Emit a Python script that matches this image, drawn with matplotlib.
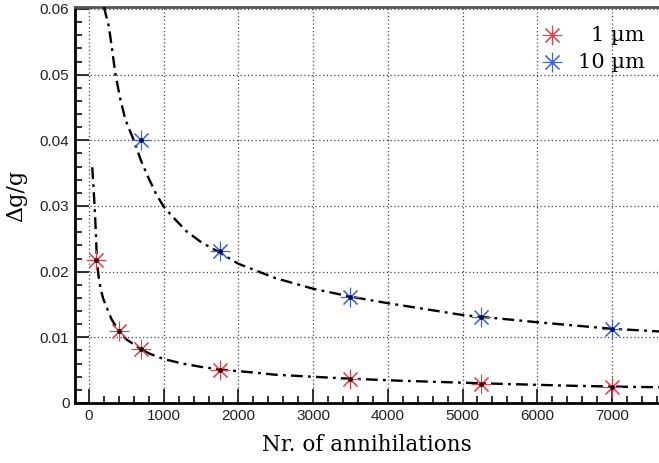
import matplotlib
matplotlib.use("Agg")
import matplotlib.pyplot as plt
from matplotlib.ticker import MultipleLocator

# measured points
n_red = [100, 400, 700, 1750, 3500, 5250, 7000]
dg_red = [0.0218, 0.0110, 0.0082, 0.0051, 0.0036, 0.0029, 0.0024]

n_blue = [700, 1750, 3500, 5250, 7000]
dg_blue = [0.0400, 0.0231, 0.0162, 0.0131, 0.0113]

# fit curves
fit_red_n = [44, 60, 76, 92, 105, 118, 130, 143, 156, 190, 236, 300, 391, 500, 590, 680,
             813, 1000, 1253, 1500, 1750, 2147, 2500, 2990, 3500, 4147, 5257, 6369,
             7000, 7630]
fit_red = [0.0359, 0.0330, 0.0298, 0.0260, 0.0219, 0.0204, 0.0192, 0.0183, 0.0174,
           0.0159, 0.0146, 0.0128, 0.0111, 0.0097, 0.0090, 0.0083, 0.0075, 0.0067,
           0.0060, 0.0055, 0.0051, 0.0047, 0.0043, 0.0040, 0.0037, 0.0034, 0.0030,
           0.00265, 0.0025, 0.0024]

fit_blue_n = [200, 267, 311, 356, 423, 489, 600, 700, 800, 900, 1000, 1150, 1300, 1500,
              1750, 2000, 2500, 3000, 3500, 4000, 5000, 6000, 7000, 7630]
fit_blue = [0.0603, 0.0573, 0.0537, 0.0499, 0.0461, 0.0431, 0.0400, 0.0368, 0.0342,
            0.0318, 0.0299, 0.0280, 0.0262, 0.0245, 0.0229, 0.0212, 0.0190, 0.0174,
            0.0162, 0.0152, 0.0134, 0.0123, 0.0113, 0.0109]

legend_labels = ["1 µm", "10 µm"]

red = "#e2404c"
blue = "#3f62d6"
star = (8, 2, 0)

fig = plt.figure(figsize=(6.59, 4.63), dpi=100)
ax = fig.add_axes([75 / 659, 1 - 403 / 463, 584 / 659, 396 / 463])

dash = (0, (5, 2.2, 1.2, 2.2))
ax.plot(fit_blue_n, fit_blue, color="black", lw=1.7, linestyle=dash, zorder=3)
ax.plot(fit_red_n, fit_red, color="black", lw=1.7, linestyle=dash, zorder=3)

ax.plot(n_red, dg_red, linestyle="none", marker=star, ms=14, mew=0.8,
        color=red, zorder=4)
ax.plot(n_red, dg_red, linestyle="none", marker="o", ms=2.5, color="#300000", zorder=5)
ax.plot(n_blue, dg_blue, linestyle="none", marker=star, ms=14, mew=0.8,
        color=blue, zorder=4)
ax.plot(n_blue, dg_blue, linestyle="none", marker="o", ms=2.5, color="#001060", zorder=5)

ax.set_xlim(-187, 7630)
ax.set_ylim(0, 0.0603)

ax.xaxis.set_major_locator(MultipleLocator(1000))
ax.xaxis.set_minor_locator(MultipleLocator(200))
ax.yaxis.set_minor_locator(MultipleLocator(0.002))
ax.set_yticks([0, 0.01, 0.02, 0.03, 0.04, 0.05, 0.06])
ax.set_yticklabels(["0", "0.01", "0.02", "0.03", "0.04", "0.05", "0.06"])

ax.grid(True, which="major", color="#444444", lw=0.9, linestyle=(0, (1, 2)))
ax.tick_params(which="both", direction="in", top=False, right=False,
               labelsize=11, width=1.3, color="#222222")
ax.tick_params(which="major", length=10, pad=4)
ax.tick_params(which="minor", length=5)
for lab in ax.get_xticklabels() + ax.get_yticklabels():
    lab.set_family("Liberation Sans")
    lab.set_color("#222222")

ax.spines["right"].set_visible(False)
ax.spines["left"].set_linewidth(2)
ax.spines["bottom"].set_linewidth(2)
ax.spines["top"].set_linewidth(2)
ax.spines["top"].set_color("#555555")

ax.set_xlabel("Nr. of annihilations", family="DejaVu Serif", fontsize=15.5, labelpad=8)
ax.set_ylabel("Δg/g", family="DejaVu Serif", fontsize=16)
ax.yaxis.set_label_coords(-0.082, 0.523)

# legend drawn by hand so the labels line up on the right
for (lab, col, yy) in [(legend_labels[0], red, 0.929), (legend_labels[1], blue, 0.861)]:
    ax.plot([0.817], [yy], transform=ax.transAxes, marker=star, ms=14, mew=0.8,
            color=col, linestyle="none", clip_on=False)
    ax.text(0.976, yy, lab, transform=ax.transAxes, ha="right", va="center",
            family="DejaVu Serif", fontsize=15)

fig.savefig("out.png", dpi=100)
